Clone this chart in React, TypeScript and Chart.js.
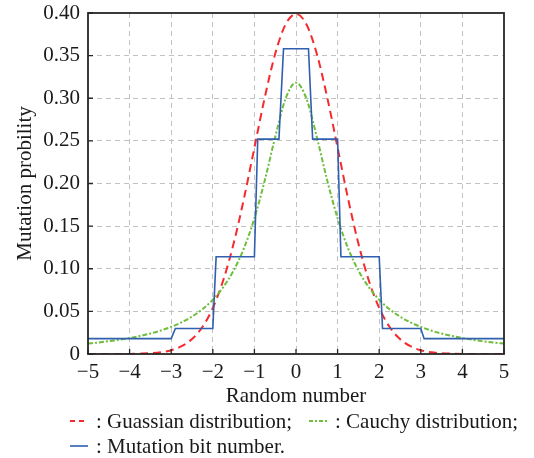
import React, { useEffect, useRef } from "react";
import { Chart, registerables } from "chart.js";

Chart.register(...registerables);

// ---- data ----
const curveX = [
  -5, -4.75, -4.5, -4.25, -4, -3.75, -3.5, -3.25, -3, -2.75, -2.5, -2.25, -2, -1.75, -1.5, -1.25, -1, -0.75, -0.5, -0.25,
  0, 0.25, 0.5, 0.75, 1, 1.25, 1.5, 1.75, 2, 2.25, 2.5, 2.75, 3, 3.25, 3.5, 3.75, 4, 4.25, 4.5, 4.75, 5,
];
const gaussianY = [
  0.0, 0.0, 0.0, 0.0001, 0.0001, 0.0004, 0.0009, 0.002, 0.0044, 0.0091, 0.0175, 0.0317, 0.054, 0.0863, 0.1295, 0.1826, 0.242, 0.3011, 0.3521, 0.3867,
  0.3989, 0.3867, 0.3521, 0.3011, 0.242, 0.1826, 0.1295, 0.0863, 0.054, 0.0317, 0.0175, 0.0091, 0.0044, 0.002, 0.0009, 0.0004, 0.0001, 0.0001, 0.0, 0.0, 0.0,
];
const cauchyY = [
  0.0122, 0.0135, 0.015, 0.0167, 0.0187, 0.0212, 0.024, 0.0275, 0.0318, 0.0372, 0.0439, 0.0524, 0.0637, 0.0784, 0.0979, 0.1242, 0.1592, 0.2037, 0.2546, 0.2996,
  0.3183, 0.2996, 0.2546, 0.2037, 0.1592, 0.1242, 0.0979, 0.0784, 0.0637, 0.0524, 0.0439, 0.0372, 0.0318, 0.0275, 0.024, 0.0212, 0.0187, 0.0167, 0.015, 0.0135, 0.0122,
];
const stepX = [-5, -3, -2.9, -2.0, -1.92, -1.0, -0.92, -0.41, -0.3, 0.3, 0.4, 1.0, 1.08, 2.0, 2.08, 3.0, 3.08, 5];
const stepY = [0.018, 0.018, 0.03, 0.03, 0.114, 0.114, 0.252, 0.252, 0.358, 0.358, 0.252, 0.252, 0.114, 0.114, 0.03, 0.03, 0.018, 0.018];

const xTicks = [-5, -4, -3, -2, -1, 0, 1, 2, 3, 4, 5];
const yTicks = [0, 0.05, 0.1, 0.15, 0.2, 0.25, 0.3, 0.35, 0.4];

const xTitle = "Random number";
const yTitle = "Mutation probility";
const legendItems = [
  { label: ": Guassian distribution;", color: "#f52a2e", dash: [5, 4] },
  { label: ": Cauchy distribution;", color: "#6fbd3c", dash: [4, 2, 2, 2] },
  { label: ": Mutation bit number.", color: "#2f5fae", dash: [] as number[] },
];

const FONT = "'Liberation Serif', 'Times New Roman', serif";
const FS = 21;

const decorPlugin = {
  id: "decor",
  afterDatasetsDraw(chart: any) {
    const { ctx, chartArea } = chart;
    const { left, right, top, bottom } = chartArea;
    const xs = chart.scales.x;
    const ys = chart.scales.y;
    ctx.save();
    ctx.strokeStyle = "#262626";
    ctx.lineWidth = 1.8;
    ctx.setLineDash([]);
    ctx.strokeRect(left, top, right - left, bottom - top);
    ctx.lineWidth = 1.3;
    ctx.beginPath();
    xTicks.forEach((v) => {
      const px = xs.getPixelForValue(v);
      ctx.moveTo(px, bottom);
      ctx.lineTo(px, bottom - 5);
    });
    yTicks.forEach((v) => {
      const py = ys.getPixelForValue(v);
      ctx.moveTo(left, py);
      ctx.lineTo(left + 5, py);
    });
    ctx.stroke();
    ctx.restore();
  },
  afterDraw(chart: any) {
    const { ctx, chartArea } = chart;
    const { left, right, top, bottom } = chartArea;
    ctx.save();
    ctx.fillStyle = "#1a1a1a";
    ctx.font = `${FS}px ${FONT}`;
    ctx.textAlign = "center";
    ctx.textBaseline = "middle";
    ctx.fillText(xTitle, (left + right) / 2, bottom + 42);
    ctx.save();
    ctx.translate(left - 63, (top + bottom) / 2);
    ctx.rotate(-Math.PI / 2);
    ctx.fillText(yTitle, 0, 0);
    ctx.restore();
    ctx.textAlign = "left";
    const rows = [[legendItems[0], legendItems[1]], [legendItems[2]]];
    const rowY = [bottom + 67, bottom + 92];
    const startX = [[70, 309], [70]];
    rows.forEach((row, ri) => {
      row.forEach((it, ci) => {
        const x0 = startX[ri][ci];
        const y0 = rowY[ri];
        ctx.strokeStyle = it.color;
        ctx.lineWidth = it.dash.length ? 2 : 1.6;
        ctx.setLineDash(it.dash);
        ctx.beginPath();
        ctx.moveTo(x0, y0);
        ctx.lineTo(x0 + 18, y0);
        ctx.stroke();
        ctx.setLineDash([]);
        ctx.fillText(it.label, x0 + 26, y0 + 1);
      });
    });
    ctx.restore();
  },
};

export default function App() {
  const ref = useRef<HTMLCanvasElement | null>(null);
  useEffect(() => {
    if (!ref.current) return;
    const chart = new Chart(ref.current, {
      type: "line",
      data: {
        datasets: [
          {
            label: "Mutation bit number",
            data: stepX.map((x, i) => ({ x, y: stepY[i] })),
            borderColor: legendItems[2].color,
            borderWidth: 1.6,
            pointRadius: 0,
            tension: 0,
            fill: false,
          },
          {
            label: "Cauchy distribution",
            data: curveX.map((x, i) => ({ x, y: cauchyY[i] })),
            borderColor: legendItems[1].color,
            borderWidth: 2,
            borderDash: [5, 2, 2, 2],
            pointRadius: 0,
            cubicInterpolationMode: "monotone",
            fill: false,
          },
          {
            label: "Guassian distribution",
            data: curveX.map((x, i) => ({ x, y: gaussianY[i] })),
            borderColor: legendItems[0].color,
            borderWidth: 2,
            borderDash: [8, 5],
            pointRadius: 0,
            cubicInterpolationMode: "monotone",
            fill: false,
          },
        ],
      },
      options: {
        animation: false,
        responsive: false,
        devicePixelRatio: 1,
        layout: { padding: { left: 0, top: 13, right: 30, bottom: 0 } },
        plugins: { legend: { display: false }, tooltip: { enabled: false } },
        scales: {
          x: {
            type: "linear",
            min: -5,
            max: 5,
            afterBuildTicks: (s: any) => {
              s.ticks = xTicks.map((v) => ({ value: v }));
            },
            afterFit: (s: any) => {
              s.height = 104;
              s.paddingLeft = 0;
              s.paddingRight = 0;
              s.paddingTop = 0;
              s.paddingBottom = 0;
            },
            ticks: {
              padding: 6,
              color: "#1a1a1a",
              font: { family: FONT, size: FS },
              maxRotation: 0,
              callback: (v: any) => (Number(v) < 0 ? "\u2212" + Math.abs(Number(v)) : String(v)),
            },
            grid: {
              color: (c: any) => (c.tick && (c.tick.value === -5 || c.tick.value === 5) ? "rgba(0,0,0,0)" : "#c2c2c2"),
              lineWidth: 1,
              drawTicks: false,
            },
            border: { display: false, dash: [5, 4] },
          },
          y: {
            type: "linear",
            min: 0,
            max: 0.4,
            afterBuildTicks: (s: any) => {
              s.ticks = yTicks.map((v) => ({ value: v }));
            },
            afterFit: (s: any) => {
              s.width = 88;
              s.paddingLeft = 0;
              s.paddingRight = 0;
              s.paddingTop = 0;
              s.paddingBottom = 0;
            },
            ticks: {
              padding: 8,
              color: "#1a1a1a",
              font: { family: FONT, size: FS },
              callback: (v: any) => (Number(v) === 0 ? "0" : Number(v).toFixed(2)),
            },
            grid: {
              color: (c: any) => (c.tick && (c.tick.value === 0 || Math.abs(c.tick.value - 0.4) < 1e-9) ? "rgba(0,0,0,0)" : "#c2c2c2"),
              lineWidth: 1,
              drawTicks: false,
            },
            border: { display: false, dash: [5, 4] },
          },
        },
      },
      plugins: [decorPlugin],
    } as any);
    return () => chart.destroy();
  }, []);
  return (
    <div style={{ position: "absolute", left: 0, top: 0, width: 534, height: 458, background: "#fff" }}>
      <canvas ref={ref} width={534} height={458} />
    </div>
  );
}
